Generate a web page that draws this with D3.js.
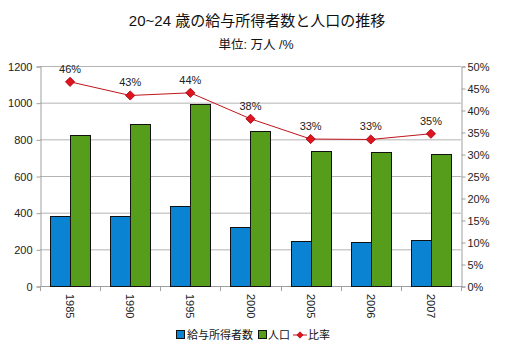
<!DOCTYPE html>
<html><head><meta charset="utf-8">
<script src="https://cdn.jsdelivr.net/npm/d3@7"></script>
<style>
html,body{margin:0;padding:0;background:#fff;}
text{font-family:"Liberation Sans","Noto Sans CJK JP",sans-serif;}
</style></head>
<body><svg id="c" width="515" height="356"></svg>
<script>
const years = ["1985","1990","1995","2000","2005","2006","2007"];
const earners = [382, 382, 436, 320, 244, 238, 249];
const population = [822, 882, 992, 844, 734, 729, 722];
const ratio = [46.4, 43.3, 43.9, 38.0, 33.4, 33.3, 34.6];
const ratioLabels = ["46%","43%","44%","38%","33%","33%","35%"];
const leftTicks = [0,200,400,600,800,1000,1200];
const rightTicks = [0,5,10,15,20,25,30,35,40,45,50];
const seriesNames = ["給与所得者数","人口","比率"];
const title = "20~24 歳の給与所得者数と人口の推移";
const subtitle = "単位: 万人 /%";

const svg = d3.select("#c");
const L=40, R=461, T=66, B=286;
const x = d3.scaleBand().domain(years).range([L,R]).paddingInner(0.333).paddingOuter(0.1667);
const xc = d3.scaleBand().domain(years).range([L,R]);
const y = d3.scaleLinear().domain([0,1200]).range([B,T]);
const y2 = d3.scaleLinear().domain([0,50]).range([B,T]);
const axisCol = "#a0a0a0", gridCol = "#b4b4b4";

// grid
svg.append("g").selectAll("line").data(leftTicks.slice(1)).join("line")
  .attr("x1",L).attr("x2",R).attr("y1",d=>y(d)+0.5).attr("y2",d=>y(d)+0.5)
  .attr("stroke",gridCol).attr("stroke-width",1);

// left axis
const la = svg.append("g").attr("transform",`translate(${L+0.5},0.5)`)
  .call(d3.axisLeft(y).tickValues(leftTicks).tickFormat(d3.format("d")).tickSize(4).tickPadding(4));
la.select(".domain").attr("stroke",axisCol);
la.selectAll(".tick line").attr("stroke",axisCol);
la.selectAll("text").attr("font-size",11).attr("fill","#222");

// right axis
const ra = svg.append("g").attr("transform",`translate(${R+0.5},0.5)`)
  .call(d3.axisRight(y2).tickValues(rightTicks).tickFormat(d=>d+"%").tickSize(4).tickPadding(2));
ra.select(".domain").attr("stroke",axisCol);
ra.selectAll(".tick line").attr("stroke",axisCol);
ra.selectAll("text").attr("font-size",11).attr("fill","#222");

// bottom axis
svg.append("line").attr("x1",L).attr("x2",R).attr("y1",B+0.5).attr("y2",B+0.5).attr("stroke",axisCol);
const bounds = years.map(d=>xc(d)).concat([R]);
svg.append("g").selectAll("line").data(bounds).join("line")
  .attr("x1",d=>Math.round(d)+0.5).attr("x2",d=>Math.round(d)+0.5).attr("y1",B).attr("y2",B+5)
  .attr("stroke",axisCol);
svg.append("g").selectAll("text").data(years).join("text")
  .attr("transform",d=>`translate(${xc(d)+xc.bandwidth()/2-4},${B+8}) rotate(90)`)
  .attr("font-size",11).attr("fill","#222").text(d=>d);

// bars
const bw = x.bandwidth()/2;
const g = svg.append("g");
g.selectAll("rect.e").data(years).join("rect").attr("class","e")
  .attr("x",(d)=>Math.round(x(d))+0.5).attr("width",Math.round(bw))
  .attr("y",(d,i)=>Math.round(y(earners[i]))+0.5).attr("height",(d,i)=>B-Math.round(y(earners[i])))
  .attr("fill","#0a84d2").attr("stroke","#111").attr("stroke-width",1);
g.selectAll("rect.p").data(years).join("rect").attr("class","p")
  .attr("x",(d)=>Math.round(x(d)+bw)+0.5).attr("width",Math.round(bw))
  .attr("y",(d,i)=>Math.round(y(population[i]))+0.5).attr("height",(d,i)=>B-Math.round(y(population[i])))
  .attr("fill","#579d1c").attr("stroke","#111").attr("stroke-width",1);

// ratio line
const cx = d=>xc(d)+xc.bandwidth()/2;
const line = d3.line().x((d,i)=>cx(years[i])).y(d=>y2(d));
svg.append("path").datum(ratio).attr("d",line).attr("fill","none").attr("stroke","#c0141c").attr("stroke-width",1);
svg.append("g").selectAll("path").data(ratio).join("path")
  .attr("d",d3.symbol().type(d3.symbolSquare).size(42))
  .attr("transform",(d,i)=>`translate(${cx(years[i])},${y2(d)}) rotate(45)`)
  .attr("fill","#e0141c").attr("stroke","#a00010").attr("stroke-width",0.8);
svg.append("g").selectAll("text").data(ratio).join("text")
  .attr("x",(d,i)=>cx(years[i])).attr("y",d=>y2(d)-9)
  .attr("text-anchor","middle").attr("font-size",11).attr("fill","#222")
  .text((d,i)=>ratioLabels[i]);

// titles
svg.append("text").attr("x",257).attr("y",26).attr("text-anchor","middle")
  .attr("font-size",15).attr("fill","#111").text(title);
svg.append("text").attr("x",256).attr("y",49).attr("text-anchor","middle")
  .attr("font-size",12.5).attr("fill","#111").text(subtitle);

// legend
const lg = svg.append("g");
const ly = 335;
lg.append("rect").attr("x",176.5).attr("y",ly-4.5).attr("width",8).attr("height",8).attr("fill","#0a84d2").attr("stroke","#111");
lg.append("text").attr("x",187).attr("y",ly+4).attr("font-size",11).attr("fill","#111").text(seriesNames[0]);
lg.append("rect").attr("x",258.5).attr("y",ly-4.5).attr("width",8).attr("height",8).attr("fill","#579d1c").attr("stroke","#111");
lg.append("text").attr("x",268).attr("y",ly+4).attr("font-size",11).attr("fill","#111").text(seriesNames[1]);
lg.append("line").attr("x1",293).attr("x2",307).attr("y1",ly).attr("y2",ly).attr("stroke","#c0141c");
lg.append("path").attr("d",d3.symbol().type(d3.symbolSquare).size(20)).attr("transform",`translate(300,${ly}) rotate(45)`).attr("fill","#e0141c").attr("stroke","#a00010").attr("stroke-width",0.6);
lg.append("text").attr("x",308).attr("y",ly+4).attr("font-size",11).attr("fill","#111").text(seriesNames[2]);
</script></body></html>
